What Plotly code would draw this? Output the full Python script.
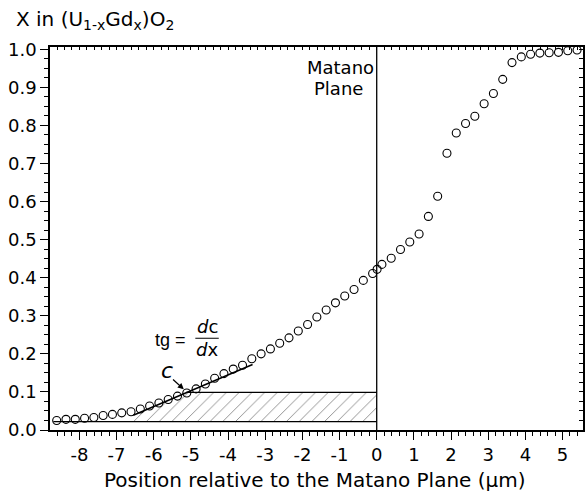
import plotly.graph_objects as go

# Gd concentration profile across the diffusion couple
position_um = [
    -8.61, -8.36, -8.11, -7.86, -7.61, -7.36, -7.11, -6.86, -6.61, -6.36,
    -6.11, -5.86, -5.61, -5.36, -5.11, -4.86, -4.61, -4.36, -4.11, -3.86,
    -3.61, -3.36, -3.11, -2.86, -2.61, -2.36, -2.11, -1.86, -1.61, -1.36,
    -1.11, -0.86, -0.61, -0.36, -0.11, 0.01, 0.14, 0.39, 0.64, 0.89,
    1.14, 1.39, 1.64, 1.89, 2.14, 2.39, 2.64, 2.89, 3.14, 3.39,
    3.64, 3.89, 4.14, 4.39, 4.64, 4.89, 5.14, 5.39,
]
x_gd = [
    0.025, 0.028, 0.028, 0.031, 0.033, 0.038, 0.041, 0.045, 0.048, 0.055,
    0.063, 0.071, 0.080, 0.089, 0.097, 0.108, 0.121, 0.136, 0.148, 0.160,
    0.170, 0.187, 0.200, 0.213, 0.228, 0.242, 0.260, 0.277, 0.297, 0.315,
    0.334, 0.352, 0.369, 0.393, 0.411, 0.422, 0.435, 0.451, 0.474, 0.494,
    0.515, 0.561, 0.614, 0.727, 0.780, 0.805, 0.824, 0.857, 0.884, 0.921,
    0.965, 0.980, 0.987, 0.990, 0.991, 0.992, 0.996, 0.998,
]

# Matano plane and the construction used for the interdiffusion coefficient
matano_x = 0.0
c_point = (-5.19, 0.107)
c_level = 0.099
base_level = 0.022
base_start = -8.7
tangent_x = [-6.55, -3.34]
tangent_y = [0.0386, 0.172]
hatch_x = [-6.55, -6.55, -5.12, matano_x, matano_x]
hatch_y = [base_level, 0.0386, c_level, c_level, base_level]

x_ticks = [-8, -7, -6, -5, -4, -3, -2, -1, 0, 1, 2, 3, 4, 5]
x_tick_labels = ["-8", "-7", "-6", "-5", "-4", "-3", "-2", "-1", "0", "1", "2", "3", "4", "5"]
x_range = [-8.79, 5.55]
y_range = [0.0, 1.006]

FONT = "DejaVu Sans"
fig = go.Figure()

# hatched area between the base level and the concentration c
fig.add_trace(go.Scatter(
    x=hatch_x, y=hatch_y, mode="lines", fill="toself",
    line=dict(width=0, color="rgba(0,0,0,0)"),
    fillcolor="rgba(0,0,0,0)",
    fillpattern=dict(shape="/", fgcolor="#111", bgcolor="rgba(0,0,0,0)", size=9, solidity=0.1),
    hoverinfo="skip", showlegend=False,
))
fig.add_trace(go.Scatter(x=[base_start, matano_x], y=[base_level, base_level], mode="lines",
                         line=dict(color="black", width=1.3), showlegend=False))
fig.add_trace(go.Scatter(x=[-5.12, matano_x], y=[c_level, c_level], mode="lines",
                         line=dict(color="black", width=1.3), showlegend=False))
fig.add_trace(go.Scatter(x=tangent_x, y=tangent_y, mode="lines",
                         line=dict(color="black", width=1.5), showlegend=False))

fig.add_trace(go.Scatter(
    x=position_um, y=x_gd, mode="markers",
    marker=dict(symbol="circle-open", size=8, color="black", line=dict(width=1.1)),
    showlegend=False,
))

# overlay axes carrying the small inward ticks on the top and right edges
fig.add_trace(go.Scatter(x=[x_range[0]], y=[y_range[0]], xaxis="x2", yaxis="y2",
                         mode="markers", marker=dict(opacity=0), hoverinfo="skip", showlegend=False))

fig.add_shape(type="line", x0=matano_x, x1=matano_x, y0=0, y1=1, xref="x", yref="paper",
              line=dict(color="black", width=1.3))

fig.update_layout(
    width=587, height=496,
    margin=dict(l=50, r=4, t=47, b=66),
    paper_bgcolor="white", plot_bgcolor="white",
    font=dict(family=FONT, color="black", size=18),
    xaxis=dict(
        range=x_range, tickvals=x_ticks, ticktext=x_tick_labels,
        ticks="outside", ticklen=8, tickwidth=1.2, tickcolor="black",
        showline=True, linecolor="black", linewidth=1.5,
        showgrid=False, zeroline=False,
        tickfont=dict(family=FONT, size=18),
        minor=dict(dtick=0.2, ticks="outside", ticklen=4, tickwidth=1, tickcolor="black", showgrid=False),
    ),
    yaxis=dict(
        range=y_range, dtick=0.1, tick0=0, tickformat=".1f",
        ticks="outside", ticklen=8, tickwidth=1.2, tickcolor="black",
        showline=True, linecolor="black", linewidth=1.5,
        showgrid=False, zeroline=False,
        tickfont=dict(family=FONT, size=18),
        minor=dict(dtick=0.025, ticks="outside", ticklen=4, tickwidth=1, tickcolor="black", showgrid=False),
    ),
    xaxis2=dict(
        range=x_range, overlaying="x", side="top", anchor="y2",
        showticklabels=False, ticks="inside", dtick=0.2, tick0=0, ticklen=3, tickwidth=1,
        tickcolor="black", showline=True, linecolor="black", linewidth=1.5,
        showgrid=False, zeroline=False,
    ),
    yaxis2=dict(
        range=y_range, overlaying="y", side="right", anchor="x2",
        showticklabels=False, ticks="inside", dtick=0.025, tick0=0, ticklen=4, tickwidth=1,
        tickcolor="black", showline=True, linecolor="black", linewidth=1.5,
        showgrid=False, zeroline=False,
    ),
)

ann = []
ann.append(dict(text="X in (U<sub>1-x</sub>Gd<sub>x</sub>)O<sub>2</sub>", xref="paper", yref="paper",
                x=-0.068, y=1.07, xanchor="left", yanchor="middle", showarrow=False,
                font=dict(family=FONT, size=20)))
ann.append(dict(text="Position relative to the Matano Plane (\u03bcm)", xref="paper", yref="paper",
                x=0.498, y=-0.131, xanchor="center", yanchor="middle", showarrow=False,
                font=dict(family=FONT, size=20)))
ann.append(dict(text="Matano", x=-0.97, y=0.952, xref="x", yref="y", showarrow=False,
                xanchor="center", yanchor="middle", font=dict(family=FONT, size=18)))
ann.append(dict(text="Plane", x=-1.03, y=0.897, xref="x", yref="y", showarrow=False,
                xanchor="center", yanchor="middle", font=dict(family=FONT, size=18)))
ann.append(dict(text="tg =", x=-5.56, y=0.236, xref="x", yref="y", showarrow=False,
                xanchor="center", yanchor="middle", font=dict(family="Liberation Sans", size=18)))
ann.append(dict(text="<i>d</i>c", x=-4.56, y=0.271, xref="x", yref="y", showarrow=False,
                xanchor="center", yanchor="middle", font=dict(family=FONT, size=18)))
ann.append(dict(text="<i>d</i>x", x=-4.56, y=0.212, xref="x", yref="y", showarrow=False,
                xanchor="center", yanchor="middle", font=dict(family=FONT, size=18)))
ann.append(dict(text="<i>c</i>", x=-5.65, y=0.155, xref="x", yref="y", showarrow=False,
                xanchor="center", yanchor="middle", font=dict(family=FONT, size=22)))
ann.append(dict(text="", x=c_point[0], y=c_point[1], ax=-5.52, ay=0.136, xref="x", yref="y",
                axref="x", ayref="y", showarrow=True, arrowhead=2, arrowsize=1, arrowwidth=1.2,
                arrowcolor="black"))
fig.update_layout(annotations=ann)

# fraction bar of dc/dx
fig.add_shape(type="line", x0=-4.88, x1=-4.25, y0=0.241, y1=0.241, xref="x", yref="y",
              line=dict(color="black", width=1))

fig.write_html("out.html")
